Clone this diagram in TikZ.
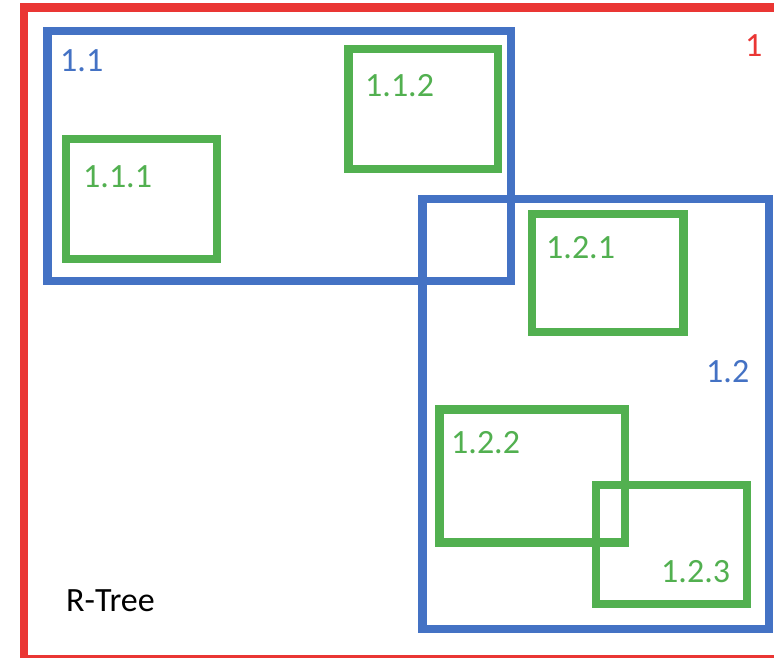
\documentclass[tikz,border=0pt]{standalone}
\usepackage{fontspec}
\setmainfont{Carlito}
\definecolor{rtred}{RGB}{234,54,52}
\definecolor{rtblue}{RGB}{68,114,196}
\definecolor{rtgreen}{RGB}{82,176,80}
\begin{document}
\begin{tikzpicture}[x=1pt,y=-1pt,
  box/.style={draw, line width=8.5pt, fill=none, inner sep=0pt, outer sep=0pt, anchor=north west},
  lbl/.style={anchor=base west, inner sep=0pt, font=\fontsize{34}{40}\selectfont}]
  \clip (0,0) rectangle (774,658);
  \fill[white] (0,0) rectangle (774,658);
  % root region
  \node[box, rtred, minimum width=766pt, minimum height=652pt] (r1) at (24,7.5) {};
  % level-1 regions and their leaves
  \node[box, rtblue, minimum width=463.5pt, minimum height=250pt] (r11) at (47.5,31) {};
  \node[box, rtgreen, minimum width=151pt, minimum height=120pt] (r111) at (66,139) {};
  \node[box, rtgreen, minimum width=149.5pt, minimum height=120pt] (r112) at (348.5,49) {};
  \node[box, rtblue, minimum width=346.5pt, minimum height=430pt] (r12) at (422.5,199) {};
  \node[box, rtgreen, minimum width=151.5pt, minimum height=118pt] (r121) at (532,214) {};
  \node[box, rtgreen, minimum width=185.5pt, minimum height=133pt] (r122) at (439.5,409.5) {};
  \node[box, rtgreen, minimum width=151pt, minimum height=119pt] (r123) at (596,485) {};
  % labels
  \node[lbl, rtred] (t1) at (745,57) {1};
  \node[lbl, rtblue] (t11) at (60,72) {1.1};
  \node[lbl, rtgreen] (t111) at (83,188) {1.1.1};
  \node[lbl, rtgreen] (t112) at (365,97) {1.1.2};
  \node[lbl, rtgreen] (t121) at (546,258) {1.2.1};
  \node[lbl, rtblue] (t12) at (706,382) {1.2};
  \node[lbl, rtgreen] (t122) at (451,453) {1.2.2};
  \node[lbl, rtgreen] (t123) at (661,582) {1.2.3};
  \node[lbl, black] (tname) at (66,611) {R-Tree};
\end{tikzpicture}
\end{document}
